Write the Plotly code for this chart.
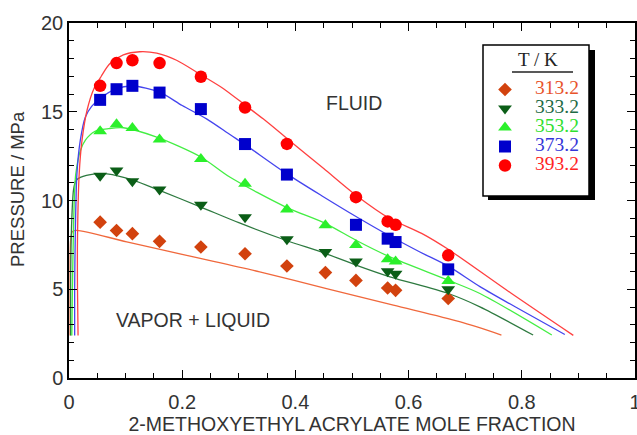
import plotly.graph_objects as go

# ---------------- data ----------------
temps = ["313.2", "333.2", "353.2", "373.2", "393.2"]

x313 = [0.055, 0.084, 0.112, 0.16, 0.233, 0.311, 0.385, 0.453, 0.507, 0.563, 0.577, 0.670]
p313 = [8.78, 8.31, 8.13, 7.70, 7.38, 7.00, 6.31, 5.94, 5.50, 5.07, 4.94, 4.48]
x333 = [0.055, 0.084, 0.112, 0.16, 0.233, 0.311, 0.385, 0.453, 0.507, 0.563, 0.577, 0.670]
p333 = [11.40, 11.69, 11.09, 10.62, 9.76, 9.06, 7.81, 7.10, 6.57, 6.01, 5.88, 5.00]
x353 = [0.055, 0.084, 0.112, 0.16, 0.233, 0.311, 0.385, 0.453, 0.507, 0.563, 0.577, 0.670]
p353 = [13.90, 14.30, 14.08, 13.43, 12.34, 10.94, 9.49, 8.60, 7.50, 6.69, 6.57, 5.47]
x373 = [0.055, 0.084, 0.112, 0.16, 0.233, 0.311, 0.385, 0.507, 0.563, 0.577, 0.670]
p373 = [15.67, 16.27, 16.46, 16.08, 15.15, 13.18, 11.46, 8.63, 7.85, 7.66, 6.12]
x393 = [0.055, 0.084, 0.112, 0.16, 0.233, 0.311, 0.385, 0.507, 0.563, 0.577, 0.670]
p393 = [16.46, 17.74, 17.90, 17.74, 16.97, 15.24, 13.19, 10.19, 8.82, 8.63, 6.91]

# calculated phase-boundary curves
cx313 = [0.002, 0.002, 0.003, 0.006, 0.0136, 0.102, 0.22, 0.337, 0.455, 0.573, 0.69, 0.764]
cp313 = [2.4, 5.0, 7.8, 8.25, 8.32, 7.67, 6.82, 5.98, 5.04, 4.10, 3.17, 2.42]
cx333 = [0.003, 0.003, 0.005, 0.008, 0.012, 0.02, 0.046, 0.067, 0.114, 0.16, 0.233, 0.30,
         0.383, 0.4535, 0.507, 0.567, 0.67, 0.726, 0.82]
cp333 = [2.4, 6.0, 9.0, 10.6, 11.1, 11.3, 11.5, 11.5, 11.14, 10.57, 9.63, 8.75,
         7.76, 7.01, 6.36, 5.70, 4.76, 4.01, 2.42]
cx353 = [0.005, 0.006, 0.008, 0.010, 0.012, 0.02, 0.029, 0.046, 0.07, 0.096, 0.155, 0.233,
         0.284, 0.383, 0.4535, 0.507, 0.567, 0.67, 0.726, 0.853]
cp353 = [2.4, 5.0, 8.5, 10.6, 11.5, 12.8, 13.4, 13.9, 14.05, 14.1, 13.57, 12.45,
         11.32, 9.63, 8.70, 7.76, 6.82, 5.51, 4.76, 2.42]
cx373 = [0.010, 0.010, 0.011, 0.014, 0.02, 0.029, 0.04, 0.055, 0.084, 0.112, 0.16, 0.20,
         0.243, 0.285, 0.311, 0.385, 0.45, 0.507, 0.567, 0.62, 0.67, 0.726, 0.80, 0.876]
cp373 = [2.4, 5.0, 7.8, 11.5, 13.4, 14.7, 15.3, 15.75, 16.3, 16.45, 16.1, 15.35,
         14.6, 13.7, 13.15, 11.5, 10.2, 9.1, 8.0, 7.1, 6.3, 5.15, 3.8, 2.45]
cx393 = [0.016, 0.015, 0.015, 0.018, 0.023, 0.032, 0.044, 0.057, 0.072, 0.096, 0.125, 0.155,
         0.19, 0.232, 0.273, 0.31, 0.343, 0.385, 0.45, 0.507, 0.566, 0.623, 0.67, 0.78, 0.891]
cp393 = [2.4, 5.0, 7.8, 11.5, 13.4, 15.1, 16.3, 17.0, 17.7, 18.2, 18.38, 18.3,
         17.9, 17.1, 16.3, 15.4, 14.6, 13.5, 11.8, 10.3, 9.0, 8.15, 7.25, 4.8, 2.4]

x_ticks = [0, 0.2, 0.4, 0.6, 0.8, 1]
x_tick_text = ["0", "0.2", "0.4", "0.6", "0.8", "1"]
y_ticks = [0, 5, 10, 15, 20]

# ---------------- styles ----------------
exp_sets = [(x313, p313), (x333, p333), (x353, p353), (x373, p373), (x393, p393)]
calc_sets = [(cx313, cp313), (cx333, cp333), (cx353, cp353), (cx373, cp373), (cx393, cp393)]
marker_colors = ["#D2420E", "#0B5E17", "#2BF02B", "#0000CC", "#FF0000"]
line_colors = ["#F0683C", "#2E7A40", "#44EE44", "#4545EE", "#FF4040"]
text_colors = ["#E8532B", "#1E6A45", "#2FE02F", "#3535D8", "#FF2424"]
symbols = ["diamond", "triangle-down", "triangle-up", "square", "circle"]
sizes = [10.5, 12, 12, 12, 12.5]

W, H = 637, 435
L, R, T, B = 69, 2, 23, 57
PW, PH = W - L - R, H - T - B


def px(xp):
    return (xp - L) / PW


def py(yp):
    return (H - B - yp) / PH


fig = go.Figure()
for (cx, cp), lc in zip(calc_sets, line_colors):
    fig.add_trace(go.Scatter(x=cx, y=cp, mode="lines", showlegend=False, hoverinfo="skip",
                             line=dict(color=lc, width=1.3, shape="spline", smoothing=0.8)))
for (ex, ep), t, mc, tc, sym, sz in zip(exp_sets, temps, marker_colors, text_colors, symbols, sizes):
    fig.add_trace(go.Scatter(
        x=ex, y=ep, mode="markers",
        name='<span style="font-size:19.5px;color:%s">%s</span>' % (tc, t),
        marker=dict(symbol=sym, size=sz, color=mc, line=dict(width=0))))

font_main = "Liberation Sans, Arial, sans-serif"
axis_common = dict(showline=True, linecolor="black", linewidth=1.5, mirror="allticks",
                   ticks="inside", ticklen=8, tickwidth=1.2, tickcolor="black",
                   showgrid=False, zeroline=False, automargin=False, ticklabeloverflow="allow",
                   tickfont=dict(family=font_main, size=20, color="#333333"))

fig.update_layout(
    width=W, height=H,
    margin=dict(l=L, r=R, t=T, b=B, autoexpand=False),
    paper_bgcolor="white", plot_bgcolor="white",
    xaxis=dict(range=[0, 1], tickvals=x_ticks, ticktext=x_tick_text,
               minor=dict(dtick=0.05, ticks="inside", ticklen=5, tickwidth=1, tickcolor="black"),
               ticklabelstandoff=5,
               title=dict(text="2-METHOXYETHYL ACRYLATE MOLE FRACTION",
                          font=dict(family=font_main, size=19.5, color="#333333"), standoff=2),
               **axis_common),
    yaxis=dict(range=[0, 20], tickvals=y_ticks,
               minor=dict(dtick=1, ticks="inside", ticklen=5, tickwidth=1, tickcolor="black"),
               ticklabelstandoff=0,
               **axis_common),
    legend=dict(x=px(475), y=py(75), xanchor="left", yanchor="top",
                bgcolor="rgba(0,0,0,0)", borderwidth=0, itemwidth=50,
                font=dict(family="Liberation Serif, Times New Roman, serif", size=12),
                tracegroupgap=0),
    showlegend=True,
)

# y-axis title (placed as in the reference, slightly above the plot centre)
fig.add_annotation(text="PRESSURE / MPa", xref="paper", yref="paper", x=px(17), y=py(189),
                   showarrow=False, textangle=-90, xanchor="center", yanchor="middle",
                   font=dict(family=font_main, size=18.5, color="#333333"))

# legend frame with drop shadow
fig.add_shape(type="rect", xref="paper", yref="paper", x0=px(488), x1=px(595), y0=py(200), y1=py(50),
              fillcolor="black", line=dict(width=0), layer="below")
fig.add_shape(type="rect", xref="paper", yref="paper", x0=px(483), x1=px(589), y0=py(196), y1=py(45),
              fillcolor="white", line=dict(color="black", width=1.5), layer="below")
fig.add_shape(type="line", xref="paper", yref="paper", x0=px(512), x1=px(573), y0=py(72), y1=py(72),
              line=dict(color="#222222", width=1.5))
fig.add_annotation(text="T / K", xref="paper", yref="paper", x=px(538), y=py(60), showarrow=False,
                   xanchor="center", yanchor="middle",
                   font=dict(family="Liberation Serif, Times New Roman, serif", size=19, color="#222222"))

fig.add_annotation(text="FLUID", xref="paper", yref="paper", x=px(354), y=py(103), showarrow=False,
                   xanchor="center", yanchor="middle",
                   font=dict(family=font_main, size=19.5, color="#333333"))
fig.add_annotation(text="VAPOR + LIQUID", xref="paper", yref="paper", x=px(193), y=py(320), showarrow=False,
                   xanchor="center", yanchor="middle",
                   font=dict(family=font_main, size=19.5, color="#333333"))

fig.write_html("out.html", config={"displayModeBar": False},
               post_script="document.body.style.margin='0px';document.body.style.padding='0px';")
